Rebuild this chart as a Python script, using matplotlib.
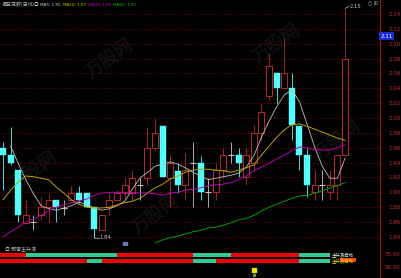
import matplotlib
matplotlib.use("Agg")
import matplotlib.pyplot as plt
from matplotlib.patches import Rectangle

# daily candles
opens = [1.960, 1.950, 1.930, 1.859, 1.860, 1.869, 1.880, 1.890, 1.879, 1.890,
         1.899, 1.899, 1.880, 1.849, 1.880, 1.890, 1.899, 1.899, 1.910, 1.919,
         1.960, 1.989, 1.919, 1.929, 1.910, 1.939, 1.939, 1.900, 1.900, 1.930,
         1.950, 1.950, 1.921, 1.939, 1.980, 2.030, 2.061, 2.040, 2.040, 1.989,
         1.950, 1.900, 1.910, 1.900, 1.910, 1.950]
closes = [1.950, 1.939, 1.869, 1.869, 1.860, 1.880, 1.890, 1.880, 1.879, 1.899,
          1.890, 1.880, 1.851, 1.869, 1.890, 1.899, 1.910, 1.919, 1.910, 1.960,
          1.980, 1.921, 1.939, 1.910, 1.930, 1.939, 1.900, 1.900, 1.930, 1.950,
          1.950, 1.939, 1.950, 1.980, 2.008, 2.070, 2.040, 2.061, 1.991, 1.950,
          1.910, 1.910, 1.910, 1.910, 1.950, 2.079]
highs = [1.968, 1.988, 1.930, 1.890, 1.869, 1.894, 1.899, 1.890, 1.890, 1.909,
         1.909, 1.899, 1.880, 1.869, 1.899, 1.903, 1.919, 1.930, 1.919, 1.988,
         2.000, 1.989, 1.950, 1.939, 1.953, 1.968, 1.949, 1.919, 1.939, 1.960,
         1.968, 1.960, 1.960, 1.991, 2.020, 2.088, 2.061, 2.108, 2.061, 1.989,
         1.960, 1.930, 1.930, 1.930, 1.950, 2.149]
lows = [1.903, 1.937, 1.860, 1.859, 1.849, 1.863, 1.860, 1.860, 1.869, 1.890,
        1.886, 1.880, 1.840, 1.849, 1.869, 1.890, 1.890, 1.890, 1.890, 1.910,
        1.957, 1.921, 1.880, 1.899, 1.890, 1.880, 1.890, 1.880, 1.890, 1.919,
        1.939, 1.921, 1.910, 1.930, 1.970, 2.024, 2.020, 2.040, 1.970, 1.930,
        1.894, 1.890, 1.890, 1.890, 1.890, 1.950]

# moving averages as drawn (None = not drawn yet)
ma5 = [None, 1.962, 1.939, 1.917, 1.898, 1.882, 1.878, 1.876, 1.879, 1.882,
       1.887, 1.883, 1.879, 1.876, 1.878, 1.882, 1.888, 1.904, 1.919, 1.927,
       1.935, 1.938, 1.941, 1.938, 1.933, 1.927, 1.922, 1.917, 1.919, 1.921,
       1.923, 1.926, 1.934, 1.949, 1.974, 1.996, 2.015, 2.031, 2.038, 2.022,
       1.992, 1.961, 1.935, 1.919, 1.919, 1.946]
ma10 = [1.890, 1.903, 1.914, 1.922, 1.921, 1.919, 1.917, 1.907, 1.899, 1.890,
        1.884, 1.880, 1.879, 1.879, 1.880, 1.883, 1.886, 1.888, 1.892, 1.899,
        1.906, 1.911, 1.918, 1.922, 1.927, 1.930, 1.931, 1.931, 1.930, 1.929,
        1.927, 1.930, 1.933, 1.937, 1.950, 1.962, 1.974, 1.984, 1.991, 1.992,
        1.989, 1.985, 1.981, 1.977, 1.973, 1.970]
ma30 = [1.840, 1.847, 1.853, 1.860, 1.864, 1.869, 1.875, 1.880, 1.883, 1.886,
        1.888, 1.891, 1.896, 1.899, 1.900, 1.900, 1.900, 1.900, 1.899, 1.899,
        1.898, 1.896, 1.899, 1.900, 1.903, 1.904, 1.906, 1.909, 1.910, 1.911,
        1.913, 1.917, 1.922, 1.929, 1.934, 1.939, 1.945, 1.950, 1.956, 1.961,
        1.960, 1.957, 1.957, 1.957, 1.960, 1.964]
ma60 = [None] * 20 + [1.832, 1.836, 1.839, 1.841, 1.844, 1.847, 1.849, 1.852,
        1.853, 1.856, 1.859, 1.863, 1.865, 1.869, 1.875, 1.880, 1.884, 1.888,
        1.892, 1.895, 1.896, 1.899, 1.902, 1.906, 1.909, 1.913]

price_ticks = [2.14, 2.12, 2.10, 2.08, 2.06, 2.04, 2.02, 2.00, 1.98, 1.96,
               1.94, 1.92, 1.90, 1.88, 1.86, 1.84]
last_price = 2.11
low_mark = (12, 1.84)
high_mark = (45, 2.15)

# bottom indicator: 1 = red, 0 = teal, per candle
row1 = [1] * 4 + [0] * 12 + [1] * 10 + [0] * 5 + [1] * 9 + [0] * 4
row2 = [1] * 12 + [0] * 2 + [1] * 12 + [0] * 3 + [1] * 11 + [0] * 4
sub_ticks = [75, 50]

UP = '#b82a2a'
DOWN = '#54fcfc'
FLAT = '#c8c8c8'
GRIDC = '#6a0000'
AXC = '#a01818'
LABC = '#c83232'
CJK = ['Noto Sans CJK SC', 'DejaVu Sans']

fig = plt.figure(figsize=(4.01, 2.78), dpi=100, facecolor='black')
ax = fig.add_axes([0, 32 / 278, 380 / 401, 246 / 278])
ax2 = fig.add_axes([0, 0, 380 / 401, 32 / 278])
for a in (ax, ax2):
    a.set_facecolor('black')
    for s in a.spines.values():
        s.set_visible(False)
    a.spines['right'].set_visible(True)
    a.spines['right'].set_color(AXC)
    a.spines['right'].set_linewidth(0.8)
ax.spines['bottom'].set_visible(True)
ax.spines['bottom'].set_color(AXC)
ax.spines['bottom'].set_linewidth(0.8)

# faint watermark
for wx, wy in [(14, 2.08), (36, 2.10), (4, 1.93), (20, 1.87), (44, 1.97), (30, 1.93)]:
    ax.text(wx, wy, '万股网', family=CJK, fontsize=13, color='#101010',
            rotation=35, ha='center', va='center', fontweight='bold', zorder=0)

bw = 0.78
for i in range(len(opens)):
    o, c, h, l = opens[i], closes[i], highs[i], lows[i]
    if abs(c - o) < 0.002:
        ax.vlines(i, l, h, color=FLAT, lw=0.6, zorder=3)
        ax.hlines(o, i - bw / 2, i + bw / 2, color=FLAT, lw=0.8, zorder=3)
    elif c > o:
        ax.vlines(i, c, h, color=UP, lw=0.6, zorder=3)
        ax.vlines(i, l, o, color=UP, lw=0.6, zorder=3)
        ax.add_patch(Rectangle((i - bw / 2, o), bw, c - o, facecolor='black',
                               edgecolor=UP, lw=0.7, zorder=3))
    else:
        ax.vlines(i, l, h, color=DOWN, lw=0.6, zorder=3)
        ax.add_patch(Rectangle((i - bw / 2, c), bw, o - c, facecolor=DOWN,
                               edgecolor=DOWN, lw=0.3, zorder=3))

def draw_ma(vals, color, lw):
    xs = [i for i, v in enumerate(vals) if v is not None]
    ys = [v for v in vals if v is not None]
    ax.plot(xs, ys, color=color, lw=lw, zorder=4)

draw_ma(ma5, '#c0c0c0', 0.6)
draw_ma(ma10, '#b4a400', 0.7)
draw_ma(ma30, '#b400b4', 0.7)
draw_ma(ma60, '#00a000', 0.7)

ax.set_xlim(-0.4, 49.6)
ax.set_ylim(1.8278, 2.1588)
ax.set_xticks([])
ax.yaxis.tick_right()
ax.set_yticks(price_ticks)
ax.set_yticklabels(['%.2f' % t for t in price_ticks])
ax.tick_params(axis='y', length=0, pad=6, labelsize=4, labelcolor=LABC)
ax.grid(axis='y', color=GRIDC, linestyle=(0, (2, 2)), lw=0.6)

# current price box
ax.text(1.002, last_price, '%.2f' % last_price, transform=ax.get_yaxis_transform(),
        fontsize=4, color='white', va='center', ha='left',
        bbox=dict(boxstyle='square,pad=0.25', fc='#1a2ad0', ec='none'))

# low / high markers
lx, ly = low_mark
ax.plot([lx, lx, lx + 0.6], [ly + 0.004, ly - 0.001, ly - 0.001], color='#c0c0c0', lw=0.5)
ax.text(lx + 0.7, ly - 0.001, '%.2f' % ly, fontsize=3.8, color='#c0c0c0', va='center')
hx, hy = high_mark
ax.plot([hx, hx + 0.5], [hy - 0.003, hy + 0.0005], color='#c0c0c0', lw=0.5)
ax.text(hx + 0.6, hy + 0.0005, '%.2f' % hy, fontsize=3.8, color='#c0c0c0', va='center')
ax.plot(16, 1.8305, marker='s', ms=3.5, color='#6878a8', zorder=5)

# header
hy_fig = 1 - 4.5 / 278
fig.text(2 / 401, hy_fig, '福日定数(日线)', family=CJK, fontsize=3.6, color='#b8b8b8', va='center')
fig.text(34 / 401, hy_fig, '◎', family=CJK, fontsize=3.6, color='#b8b8b8', va='center')
fig.text(40 / 401, hy_fig, 'MA5: 1.95', fontsize=3.0, color='#d0d0d0', va='center')
fig.text(63 / 401, hy_fig, 'MA10: 1.97', fontsize=3.0, color='#d0d000', va='center')
fig.text(88 / 401, hy_fig, 'MA30: 1.96', fontsize=3.0, color='#d000d0', va='center')
fig.text(113 / 401, hy_fig, 'MA60: 1.91', fontsize=3.0, color='#00c000', va='center')
fig.text(368 / 401, 1 - 3.5 / 278, '○ ⊞', fontsize=3.5, color='#a0a0a0', va='center')

# bottom indicator panel
RED = '#f00000'
TEAL = '#34c898'
for i in range(len(row1)):
    ax2.bar(i - 1, 8.6, width=1, bottom=68.3, align='edge',
            color=RED if row1[i] else TEAL, lw=0)
    ax2.bar(i - 1, 8.6, width=1, bottom=56.8, align='edge',
            color=RED if row2[i] else TEAL, lw=0)
ax2.text(43.2, 72.5, '主升浪启动', family=CJK, fontsize=3.2, color='#d8f8f0', va='center')
ax2.add_patch(Rectangle((44.4, 60), 2.1, 7, color='#ff4010', lw=0))
ax2.text(43.2, 59.5, '主升浪启动', family=CJK, fontsize=3.2, color='#e8e800', va='center')
ax2.plot(33, 44, marker='s', ms=3.5, color='#f0e000')
ax2.plot(33, 35, marker='o', ms=1.5, color='#60a040')
ax2.text(0.3, 83, '◎ 预警主升浪', family=CJK, fontsize=3.6, color='#b8b8b8', va='center')
ax2.set_xlim(-0.4, 49.6)
ax2.set_ylim(28.8, 90.4)
ax2.set_xticks([])
ax2.yaxis.tick_right()
ax2.set_yticks(sub_ticks)
ax2.set_yticklabels(['%.2f' % t for t in sub_ticks])
ax2.tick_params(axis='y', length=0, pad=3, labelsize=4, labelcolor=LABC)

fig.savefig('out.png', dpi=100, facecolor='black')
